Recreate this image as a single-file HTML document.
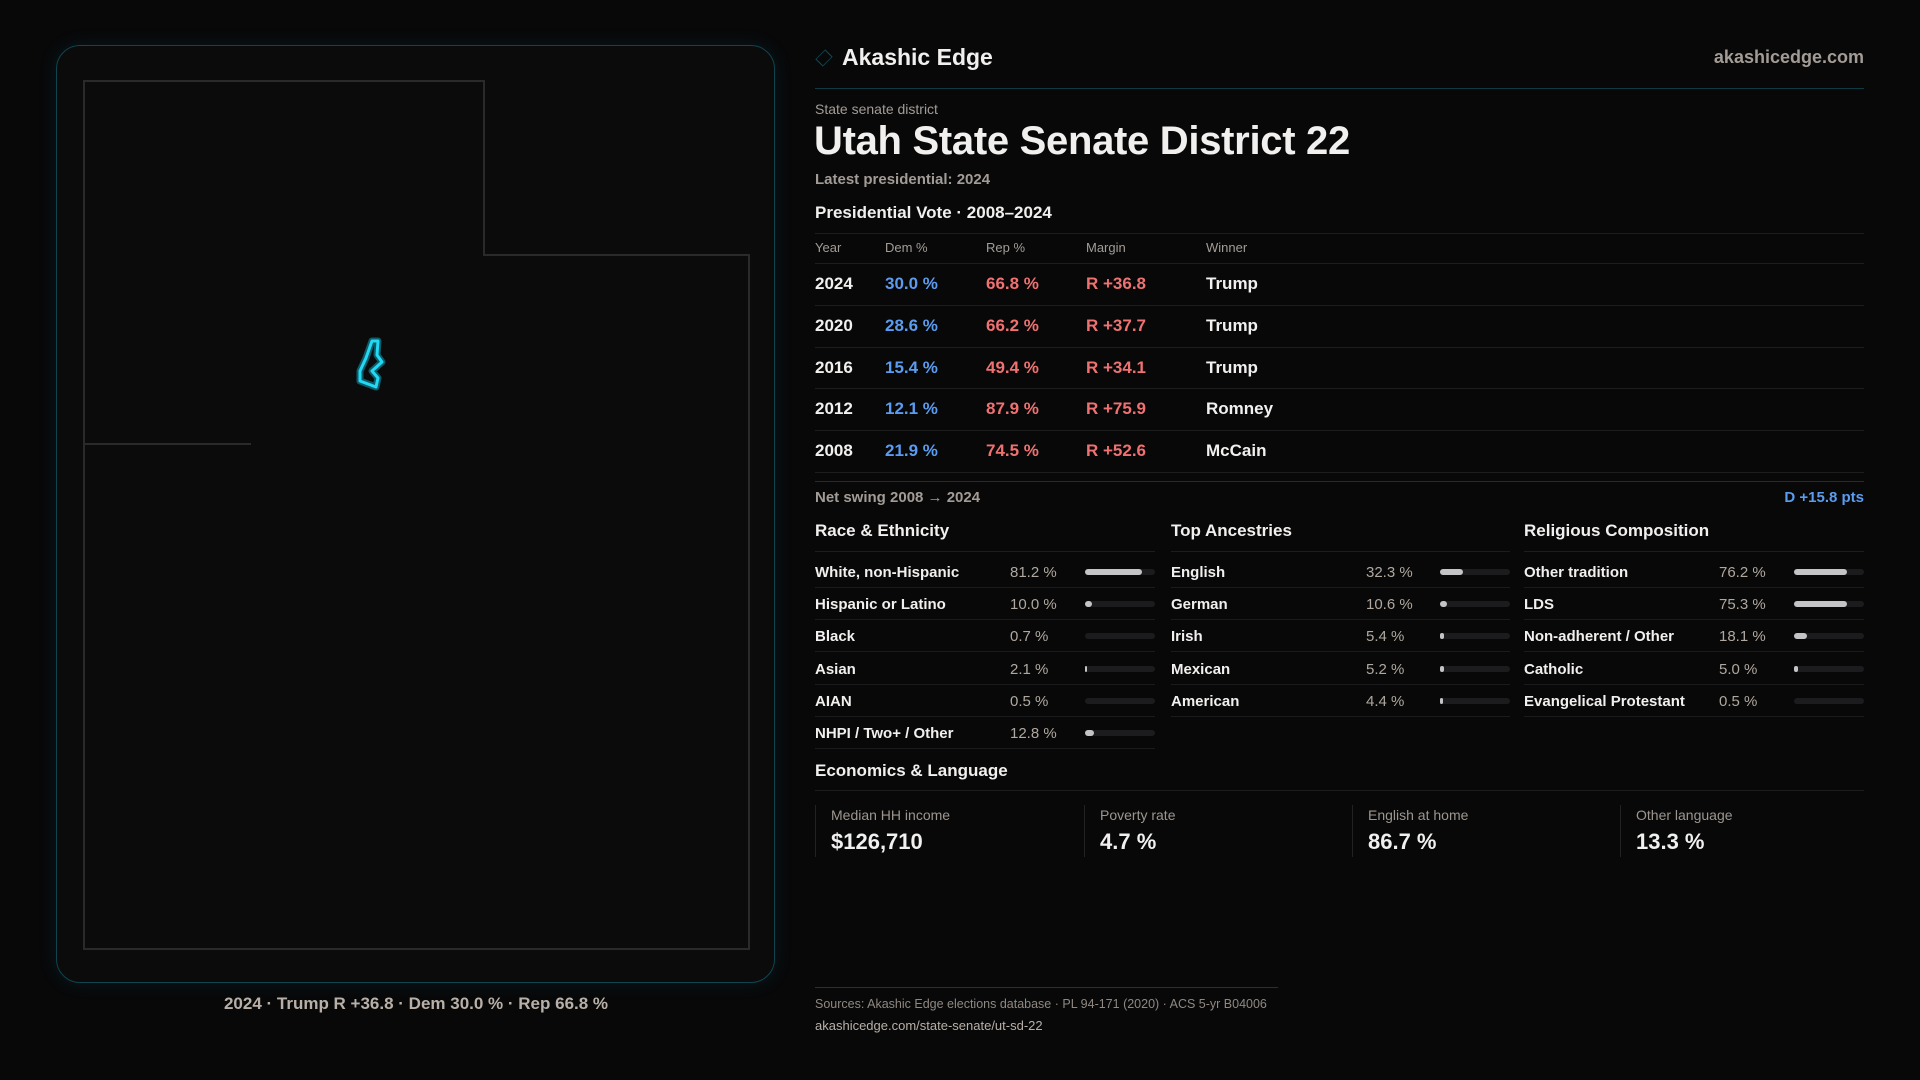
<!DOCTYPE html>
<html><head><meta charset="utf-8"><style>
*{margin:0;padding:0;box-sizing:border-box}
body{width:1920px;height:1080px;background:#080809;font-family:"Liberation Sans",sans-serif;color:#f2f0ee;position:relative;overflow:hidden}
.a{position:absolute;white-space:nowrap}
.panel{position:absolute;left:56px;top:45px;width:719px;height:938px;border:1px solid #0f4450;border-radius:24px;background:#0b0b0c;box-shadow:0 0 18px rgba(20,120,140,0.15)}
.g{color:#a39c96}
.hr{position:absolute;left:815px;width:1049px;height:1px;background:#1d1d1f}
.tr{position:absolute;left:815px;width:1049px;height:41.6px;font-size:17px;font-weight:bold}
.tr span{position:absolute;top:11px}
.blue{color:#5b9cf0}.red{color:#f07171}
.row{position:absolute;height:32px;font-size:15px;font-weight:bold;border-bottom:1px solid #1b1b1d}
.row .v{position:absolute;left:195px;top:8px;color:#b0a89f;font-weight:normal}
.row .l{position:absolute;left:0;top:8px}
.trk{position:absolute;top:13px;width:70px;height:6px;border-radius:3px;background:#1c1c1e}
.fill{height:6px;border-radius:3px;background:#c4c4c6}
.card{position:absolute;top:805px;height:52px;border-left:1px solid #222224;padding-left:15px}
.card .k{font-size:14px;color:#9d9690;margin-top:2px}
.card .n{font-size:22px;font-weight:bold;margin-top:6px}
</style></head><body>
<div class="panel"></div>
<svg class="a" style="left:0;top:0" width="800" height="1000">
<path d="M84 81 H484 V255 H749 V949 H84 Z M84 444 H251" fill="none" stroke="#2a2a2c" stroke-width="2"/>
<path d="M372 341 L378 341 L377 355 L382 362 L372 371 L378 378 L376 387 L360 381 L360 371 L366 358 Z" fill="none" stroke="#0e5a68" stroke-width="7" stroke-linejoin="round"/>
<path d="M372 341 L378 341 L377 355 L382 362 L372 371 L378 378 L376 387 L360 381 L360 371 L366 358 Z" fill="none" stroke="#22d8f2" stroke-width="3" stroke-linejoin="round"/>
</svg>
<div class="a" style="left:0;width:832px;top:994px;text-align:center;font-size:17px;color:#b8b0a8;font-weight:bold">2024 · Trump R +36.8 · Dem 30.0 % · Rep 66.8 %</div>

<div class="a" style="left:817px;top:51px;width:14px;height:14px;border:1.5px solid #0f4a55;transform:rotate(45deg) scaleX(0.75)"></div>
<div class="a" style="left:842px;top:44px;font-size:23px;font-weight:bold">Akashic Edge</div>
<div class="a g" style="right:56px;top:47px;font-size:18px;font-weight:bold">akashicedge.com</div>
<div class="a" style="left:815px;top:88px;width:1049px;height:1px;background:#0f3a44"></div>
<div class="a g" style="left:815px;top:101px;font-size:14px">State senate district</div>
<div class="a" style="left:814px;top:119px;font-size:40px;font-weight:bold;letter-spacing:-0.3px">Utah State Senate District 22</div>
<div class="a g" style="left:815px;top:171px;font-size:15px;font-weight:bold">Latest presidential: 2024</div>
<div class="a" style="left:815px;top:203px;font-size:17px;font-weight:bold">Presidential Vote · 2008–2024</div>
<div class="hr" style="top:233px"></div>
<div class="a g" style="left:815px;top:240px;font-size:13px">Year</div>
<div class="a g" style="left:885px;top:240px;font-size:13px">Dem %</div>
<div class="a g" style="left:986px;top:240px;font-size:13px">Rep %</div>
<div class="a g" style="left:1086px;top:240px;font-size:13px">Margin</div>
<div class="a g" style="left:1206px;top:240px;font-size:13px">Winner</div>
<div class="hr" style="top:263px"></div>
<div class="tr" style="top:263px"><span style="left:0">2024</span><span class="blue" style="left:70px">30.0 %</span><span class="red" style="left:171px">66.8 %</span><span class="red" style="left:271px">R +36.8</span><span style="left:391px">Trump</span></div>
<div class="hr" style="top:305px"></div>
<div class="tr" style="top:305px"><span style="left:0">2020</span><span class="blue" style="left:70px">28.6 %</span><span class="red" style="left:171px">66.2 %</span><span class="red" style="left:271px">R +37.7</span><span style="left:391px">Trump</span></div>
<div class="hr" style="top:347px"></div>
<div class="tr" style="top:347px"><span style="left:0">2016</span><span class="blue" style="left:70px">15.4 %</span><span class="red" style="left:171px">49.4 %</span><span class="red" style="left:271px">R +34.1</span><span style="left:391px">Trump</span></div>
<div class="hr" style="top:388px"></div>
<div class="tr" style="top:388px"><span style="left:0">2012</span><span class="blue" style="left:70px">12.1 %</span><span class="red" style="left:171px">87.9 %</span><span class="red" style="left:271px">R +75.9</span><span style="left:391px">Romney</span></div>
<div class="hr" style="top:430px"></div>
<div class="tr" style="top:430px"><span style="left:0">2008</span><span class="blue" style="left:70px">21.9 %</span><span class="red" style="left:171px">74.5 %</span><span class="red" style="left:271px">R +52.6</span><span style="left:391px">McCain</span></div>
<div class="hr" style="top:472px"></div>
<div class="hr" style="top:481px;background:#2a2a2c"></div>
<div class="a g" style="left:815px;top:489px;font-size:15px;font-weight:bold">Net swing 2008 → 2024</div>
<div class="a blue" style="right:56px;top:489px;font-size:15px;font-weight:bold">D +15.8 pts</div>

<div class="a" style="left:815px;top:521px;font-size:17px;font-weight:bold">Race &amp; Ethnicity</div>
<div class="a" style="left:1171px;top:521px;font-size:17px;font-weight:bold">Top Ancestries</div>
<div class="a" style="left:1524px;top:521px;font-size:17px;font-weight:bold">Religious Composition</div>
<div class="a" style="left:815px;top:551px;width:340px;height:1px;background:#1d1d1f"></div>
<div class="a" style="left:1171px;top:551px;width:339px;height:1px;background:#1d1d1f"></div>
<div class="a" style="left:1524px;top:551px;width:340px;height:1px;background:#1d1d1f"></div>

<script>
function col(x,w,data){var h='';data.forEach(function(d,i){var t=556+i*32.2;var fw=d[1]<1?0:Math.max(d[1]*0.7,2);h+='<div class="row a" style="left:'+x+'px;top:'+t+'px;width:'+w+'px"><span class="l">'+d[0]+'</span><span class="v">'+d[1].toFixed(1)+' %</span><div class="trk" style="left:'+(w-70)+'px"><div class="fill" style="width:'+fw+'px"></div></div></div>';});document.write(h);}
col(815,340,[["White, non-Hispanic",81.2],["Hispanic or Latino",10.0],["Black",0.7],["Asian",2.1],["AIAN",0.5],["NHPI / Two+ / Other",12.8]]);
col(1171,339,[["English",32.3],["German",10.6],["Irish",5.4],["Mexican",5.2],["American",4.4]]);
col(1524,340,[["Other tradition",76.2],["LDS",75.3],["Non-adherent / Other",18.1],["Catholic",5.0],["Evangelical Protestant",0.5]]);
</script>
<div class="a" style="left:815px;top:761px;font-size:17px;font-weight:bold">Economics &amp; Language</div>
<div class="hr" style="top:790px"></div>
<div class="card" style="left:815px"><div class="k">Median HH income</div><div class="n">$126,710</div></div>
<div class="card" style="left:1084px"><div class="k">Poverty rate</div><div class="n">4.7 %</div></div>
<div class="card" style="left:1352px"><div class="k">English at home</div><div class="n">86.7 %</div></div>
<div class="card" style="left:1620px"><div class="k">Other language</div><div class="n">13.3 %</div></div>
<div class="a" style="left:815px;top:987px;width:463px;height:1px;background:#0f3a44"></div>
<div class="a" style="left:815px;top:997px;font-size:12.5px;color:#8f8882">Sources: Akashic Edge elections database · PL 94-171 (2020) · ACS 5-yr B04006</div>
<div class="a" style="left:815px;top:1018px;font-size:13px;color:#b8b0a8">akashicedge.com/state-senate/ut-sd-22</div>
</body></html>
